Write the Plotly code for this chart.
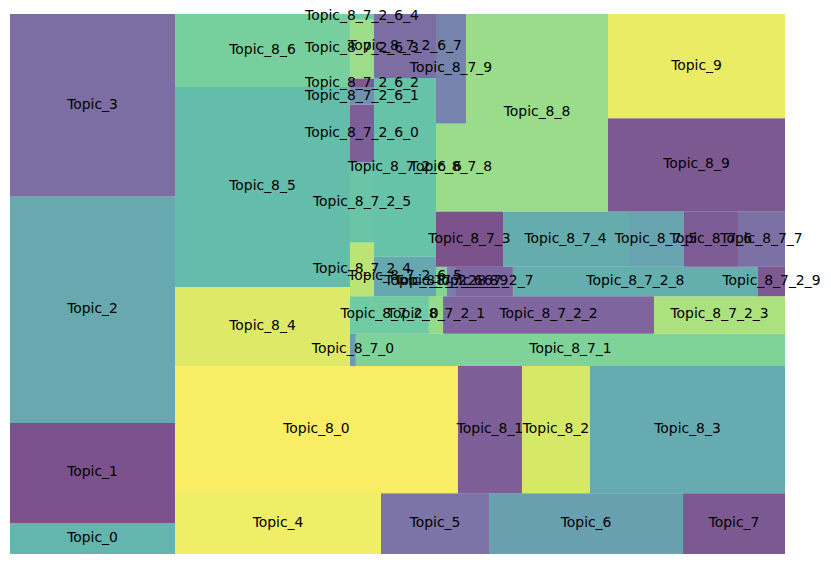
import plotly.graph_objects as go

# ---- data -------------------------------------------------------------
labels = [
    "Topic_0", "Topic_1", "Topic_2", "Topic_3", "Topic_4", "Topic_5", "Topic_6", "Topic_7",
    "Topic_8_0", "Topic_8_1", "Topic_8_2", "Topic_8_3", "Topic_8_4", "Topic_8_5", "Topic_8_6",
    "Topic_8_7_0", "Topic_8_7_1",
    "Topic_8_7_2_0", "Topic_8_7_2_1", "Topic_8_7_2_2", "Topic_8_7_2_3", "Topic_8_7_2_4",
    "Topic_8_7_2_5",
    "Topic_8_7_2_6_0", "Topic_8_7_2_6_1", "Topic_8_7_2_6_2", "Topic_8_7_2_6_3",
    "Topic_8_7_2_6_4", "Topic_8_7_2_6_5", "Topic_8_7_2_6_6", "Topic_8_7_2_6_7",
    "Topic_8_7_2_6_8", "Topic_8_7_2_6_9",
    "Topic_8_7_2_7", "Topic_8_7_2_8", "Topic_8_7_2_9",
    "Topic_8_7_3", "Topic_8_7_4", "Topic_8_7_5", "Topic_8_7_6", "Topic_8_7_7",
    "Topic_8_7_8", "Topic_8_7_9",
    "Topic_8_8", "Topic_8_9", "Topic_9",
]
values = [
    512, 1650, 3732, 3010, 1253, 657, 1180, 620,
    3594, 813, 864, 2477, 1384, 3495, 1278,
    19, 1386,
    296, 53, 791, 491, 129,
    193,
    138, 41, 22, 143,
    12, 245, 1106, 397,
    32, 27,
    168, 723, 80,
    369, 688, 308, 297, 259,
    264, 328,
    2805, 1650, 1846,
]
# position of each tile's colour on the viridis colormap
color_pos = [
    0.52, 0.02, 0.45, 0.14, 0.97, 0.16, 0.40, 0.05,
    0.99, 0.07, 0.91, 0.46, 0.93, 0.56, 0.68,
    0.38, 0.71,
    0.65, 0.77, 0.10, 0.82, 0.85,
    0.62,
    0.07, 0.32, 0.05, 0.79,
    0.66, 0.44, 0.61, 0.14,
    0.72, 0.22,
    0.11, 0.48, 0.05,
    0.02, 0.47, 0.42, 0.06, 0.15,
    0.78, 0.24,
    0.78, 0.05, 0.96,
]

# ---- viridis colormap (matplotlib) -------------------------------------
VIRIDIS = ["#440154", "#482475", "#414487", "#355f8d", "#2a788e", "#21918c",
           "#22a884", "#44bf70", "#7ad151", "#bddf26", "#fde725"]


def viridis(t, alpha=0.7):
    t = min(max(t, 0.0), 1.0)
    n = len(VIRIDIS) - 1
    i = min(int(t * n), n - 1)
    f = t * n - i
    c0 = [int(VIRIDIS[i][k:k + 2], 16) for k in (1, 3, 5)]
    c1 = [int(VIRIDIS[i + 1][k:k + 2], 16) for k in (1, 3, 5)]
    c = [round(a + (b - a) * f) for a, b in zip(c0, c1)]
    return f"rgba({c[0]},{c[1]},{c[2]},{alpha})"


# ---- squarify algorithm -----------------------------------------------
def normalize_sizes(sizes, dx, dy):
    total = sum(sizes)
    return [s * dx * dy / total for s in sizes]


def layoutrow(sizes, x, y, dx, dy):
    width = sum(sizes) / dy
    rects = []
    for s in sizes:
        rects.append({"x": x, "y": y, "dx": width, "dy": s / width})
        y += s / width
    return rects


def layoutcol(sizes, x, y, dx, dy):
    height = sum(sizes) / dx
    rects = []
    for s in sizes:
        rects.append({"x": x, "y": y, "dx": s / height, "dy": height})
        x += s / height
    return rects


def layout(sizes, x, y, dx, dy):
    return layoutrow(sizes, x, y, dx, dy) if dx >= dy else layoutcol(sizes, x, y, dx, dy)


def leftover(sizes, x, y, dx, dy):
    if dx >= dy:
        w = sum(sizes) / dy
        return x + w, y, dx - w, dy
    h = sum(sizes) / dx
    return x, y + h, dx, dy - h


def worst_ratio(sizes, x, y, dx, dy):
    return max(max(r["dx"] / r["dy"], r["dy"] / r["dx"]) for r in layout(sizes, x, y, dx, dy))


def squarify(sizes, x, y, dx, dy):
    sizes = [float(s) for s in sizes]
    if not sizes:
        return []
    if len(sizes) == 1:
        return layout(sizes, x, y, dx, dy)
    i = 1
    while i < len(sizes) and worst_ratio(sizes[:i], x, y, dx, dy) >= worst_ratio(sizes[:i + 1], x, y, dx, dy):
        i += 1
    current, remaining = sizes[:i], sizes[i:]
    lx, ly, ldx, ldy = leftover(current, x, y, dx, dy)
    return layout(current, x, y, dx, dy) + squarify(remaining, lx, ly, ldx, ldy)


NORM_X, NORM_Y = 100.0, 100.0
rects = squarify(normalize_sizes(values, NORM_X, NORM_Y), 0.0, 0.0, NORM_X, NORM_Y)

fig = go.Figure()
fig.add_trace(go.Bar(
    x=[r["x"] for r in rects],
    y=[r["dy"] for r in rects],
    base=[r["y"] for r in rects],
    width=[r["dx"] for r in rects],
    offset=0,
    marker=dict(color=[viridis(c) for c in color_pos], line=dict(width=0)),
    hoverinfo="skip",
))
fig.add_trace(go.Scatter(
    x=[r["x"] + r["dx"] / 2 for r in rects],
    y=[r["y"] + r["dy"] / 2 for r in rects],
    mode="text",
    text=labels,
    textposition="middle center",
    textfont=dict(family="DejaVu Sans", size=13.9, color="black"),
    cliponaxis=False,
    hoverinfo="skip",
))

fig.update_layout(
    width=831, height=563,
    margin=dict(l=10, r=46, t=14, b=9),
    barmode="overlay",
    showlegend=False,
    plot_bgcolor="white",
    paper_bgcolor="white",
    xaxis=dict(range=[0, NORM_X], visible=False, fixedrange=True),
    yaxis=dict(range=[0, NORM_Y], visible=False, fixedrange=True),
)

fig.write_html("out.html")
